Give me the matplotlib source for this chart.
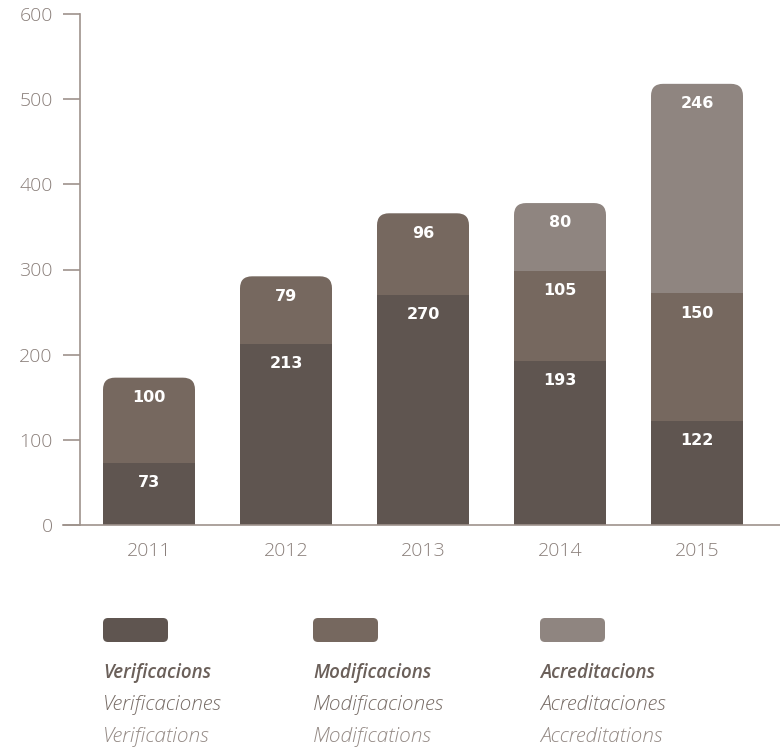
import matplotlib
matplotlib.use("Agg")
import matplotlib.pyplot as plt
from matplotlib.patches import FancyBboxPatch
import numpy as np

years = ['2011', '2012', '2013', '2014', '2015']
verificacions = [73, 213, 270, 193, 122]
modificacions = [100, 79, 96, 105, 150]
acreditacions = [0, 0, 0, 80, 246]
yticks = [0, 100, 200, 300, 400, 500, 600]

c_dark = '#5f5550'
c_mid = '#76685f'
c_light = '#8f8580'
axis_col = '#9e928c'
tick_col = '#8a7f7a'

W, H = 780, 751
fig = plt.figure(figsize=(W / 100, H / 100), dpi=100)
plt.rcParams['font.family'] = ['Open Sans', 'DejaVu Sans']

ax_l, ax_r, ax_t, ax_b = 80, 780, 14, 525
ax = fig.add_axes([ax_l / W, (H - ax_b) / H, (ax_r - ax_l) / W, (ax_b - ax_t) / H])
ax.set_ylim(0, 600)
spacing = 137.0
xmin = -(149 - ax_l) / spacing
xmax = xmin + (ax_r - ax_l) / spacing
ax.set_xlim(xmin, xmax)

bw = 92 / spacing
px_per_unit_y = (ax_b - ax_t) / 600.0
r_px = 12
rx = r_px / spacing
ry = r_px / px_per_unit_y

x = np.arange(len(years))
segments = [(verificacions, c_dark), (modificacions, c_mid), (acreditacions, c_light)]

for i in range(len(years)):
    vals = [s[0][i] for s in segments]
    cols = [s[1] for s in segments]
    total = sum(vals)
    top_idx = max(j for j in range(3) if vals[j] > 0)
    patch = FancyBboxPatch((x[i] - bw / 2, 0), bw, total,
                           boxstyle=f"round,pad=0,rounding_size={rx}",
                           mutation_aspect=ry / rx,
                           facecolor=cols[top_idx], edgecolor='none', zorder=2)
    ax.add_patch(patch)
    bottom = 0
    for j in range(3):
        v = vals[j]
        if v <= 0:
            continue
        if j < top_idx:
            ax.bar(x[i], v, bw, bottom=bottom, color=cols[j], linewidth=0, zorder=3)
        ax.annotate(str(v), (x[i], bottom + v), xytext=(0, -14.2), textcoords='offset points',
                    ha='center', va='center', color='white', fontsize=11.5,
                    fontweight='bold', family='DejaVu Sans', zorder=5)
        bottom += v

for s in ['top', 'right', 'bottom']:
    ax.spines[s].set_visible(False)
ax.spines['left'].set_color(axis_col)
ax.spines['left'].set_linewidth(1.2)
ax.axhline(0, xmin=-17 / (ax_r - ax_l), xmax=1, color=axis_col, lw=1.2, clip_on=False, zorder=4)

ax.set_yticks(yticks)
ax.set_yticklabels([str(v) for v in yticks])
ax.tick_params(axis='y', length=12.2, width=1.2, color=axis_col, labelcolor=tick_col,
               labelsize=14, pad=7.5)
ax.set_xticks(x)
ax.set_xticklabels(years)
ax.tick_params(axis='x', length=0, labelcolor=tick_col, labelsize=14, pad=12)
for lab in ax.get_yticklabels() + ax.get_xticklabels():
    lab.set_fontweight('light')

lg = fig.add_axes([0, 0, 1, 1], zorder=-1)
lg.set_xlim(0, W)
lg.set_ylim(H, 0)
lg.axis('off')
leg_names = [
    ('Verificacions', 'Verificaciones', 'Verifications'),
    ('Modificacions', 'Modificaciones', 'Modifications'),
    ('Acreditacions', 'Acreditaciones', 'Accreditations'),
]
leg_cols = [c_dark, c_mid, c_light]
leg_x = [103, 313, 540]
for lx, col, names in zip(leg_x, leg_cols, leg_names):
    lg.add_patch(FancyBboxPatch((lx, 618), 65, 24,
                                boxstyle="round,pad=0,rounding_size=5",
                                facecolor=col, edgecolor='none'))
    lg.text(lx, 673, names[0], fontsize=13.5, style='italic', fontweight='semibold',
            color='#6b605a', va='center', ha='left')
    lg.text(lx, 705, names[1], fontsize=15, style='italic', fontweight='light',
            color='#776c66', va='center', ha='left')
    lg.text(lx, 737, names[2], fontsize=15, style='italic', fontweight='light',
            color='#948a85', va='center', ha='left')

fig.savefig('out.png', dpi=100)
